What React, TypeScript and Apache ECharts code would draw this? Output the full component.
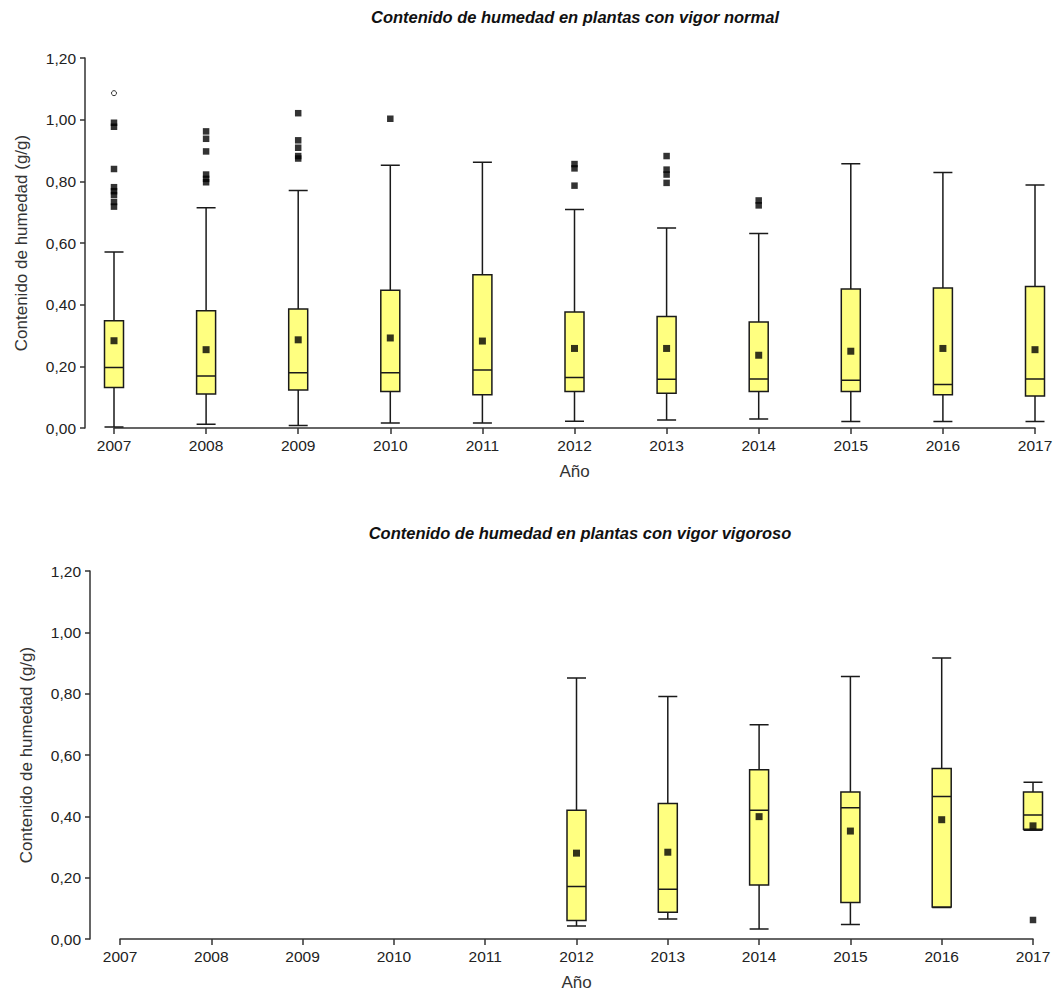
import { useEffect, useRef } from 'react';
import * as echarts from 'echarts';

// ---------- Data ----------
const years = ['2007', '2008', '2009', '2010', '2011', '2012', '2013', '2014', '2015', '2016', '2017'];
const yTicks = [0, 0.2, 0.4, 0.6, 0.8, 1.0, 1.2];

// Vigor normal (all years)
const normalMin = [0.003, 0.012, 0.008, 0.016, 0.016, 0.022, 0.026, 0.029, 0.021, 0.021, 0.021];
const normalQ1 = [0.131, 0.110, 0.123, 0.118, 0.108, 0.118, 0.113, 0.118, 0.118, 0.108, 0.104];
const normalMedian = [0.196, 0.169, 0.179, 0.179, 0.188, 0.164, 0.158, 0.159, 0.155, 0.141, 0.159];
const normalQ3 = [0.348, 0.380, 0.386, 0.447, 0.497, 0.376, 0.362, 0.344, 0.451, 0.454, 0.459];
const normalMax = [0.571, 0.714, 0.770, 0.852, 0.862, 0.709, 0.649, 0.631, 0.857, 0.829, 0.788];
const normalMean = [0.283, 0.254, 0.286, 0.292, 0.282, 0.258, 0.258, 0.236, 0.249, 0.258, 0.254];
const normalOutliers: [string, number][] = [
  ['2007', 0.99], ['2007', 0.977], ['2007', 0.84], ['2007', 0.781], ['2007', 0.768], ['2007', 0.756],
  ['2007', 0.733], ['2007', 0.718],
  ['2008', 0.962], ['2008', 0.938], ['2008', 0.897], ['2008', 0.822], ['2008', 0.808], ['2008', 0.797],
  ['2009', 1.021], ['2009', 0.933], ['2009', 0.909], ['2009', 0.882], ['2009', 0.874],
  ['2010', 1.003],
  ['2012', 0.856], ['2012', 0.842], ['2012', 0.786],
  ['2013', 0.882], ['2013', 0.838], ['2013', 0.822], ['2013', 0.795],
  ['2014', 0.738], ['2014', 0.722],
];
const normalExtremes: [string, number][] = [['2007', 1.086]];

// Vigor vigoroso (2012-2017 only)
const vigorYears = ['2012', '2013', '2014', '2015', '2016', '2017'];
const vigorMin = [0.042, 0.065, 0.033, 0.047, 0.103, 0.355];
const vigorQ1 = [0.060, 0.087, 0.176, 0.119, 0.104, 0.358];
const vigorMedian = [0.171, 0.162, 0.420, 0.428, 0.465, 0.404];
const vigorQ3 = [0.420, 0.442, 0.552, 0.479, 0.556, 0.479];
const vigorMax = [0.851, 0.791, 0.699, 0.856, 0.916, 0.511];
const vigorMean = [0.280, 0.283, 0.399, 0.352, 0.389, 0.369];
const vigorOutliers: [string, number][] = [['2017', 0.062]];

// ---------- Styles ----------
const FONT = '"Liberation Sans", Arial, sans-serif';
const AXIS_COLOR = '#333333';
const BOX_FILL = '#FFFF80';

function fmt(v: number) {
  return v.toFixed(2).replace('.', ',');
}

function makeXAxis(gridIndex: number) {
  return {
    type: 'category',
    gridIndex,
    data: years,
    boundaryGap: false,
    name: 'Año',
    nameLocation: 'middle',
    nameGap: 35,
    nameTextStyle: { fontFamily: FONT, fontSize: 17, color: '#333' },
    axisLine: { show: true, lineStyle: { color: AXIS_COLOR, width: 1.5 } },
    axisTick: { show: true, length: 6, lineStyle: { color: AXIS_COLOR, width: 1.5 } },
    axisLabel: { interval: 0, margin: 9, fontFamily: FONT, fontSize: 15.5, color: '#222' },
    splitLine: { show: false },
  };
}

function makeYAxis(gridIndex: number, offset: number) {
  return {
    type: 'value',
    gridIndex,
    min: 0,
    max: 1.2,
    interval: 0.2,
    offset,
    name: 'Contenido de humedad (g/g)',
    nameLocation: 'middle',
    nameGap: 55,
    nameTextStyle: { fontFamily: FONT, fontSize: 17, color: '#333' },
    axisLine: { show: true, lineStyle: { color: AXIS_COLOR, width: 1.5 } },
    axisTick: { show: true, length: 5, lineStyle: { color: AXIS_COLOR, width: 1.5 } },
    axisLabel: {
      margin: 9,
      fontFamily: FONT,
      fontSize: 15.5,
      color: '#222',
      formatter: (v: number) => (yTicks.some((t) => Math.abs(t - v) < 1e-6) ? fmt(v) : ''),
    },
    splitLine: { show: false },
  };
}

const boxStyle = { color: BOX_FILL, borderColor: '#1a1a1a', borderWidth: 1.5 };

function buildOption() {
  const normalBoxData = years.map((y, i) => [i, normalMin[i], normalQ1[i], normalMedian[i], normalQ3[i], normalMax[i]]);
  const vigorBoxData = vigorYears.map((y, i) => [
    years.indexOf(y), vigorMin[i], vigorQ1[i], vigorMedian[i], vigorQ3[i], vigorMax[i],
  ]);

  return {
    animation: false,
    backgroundColor: '#ffffff',
    title: [
      {
        text: 'Contenido de humedad en plantas con vigor normal',
        left: 575,
        top: 7,
        textAlign: 'center',
        padding: 0,
        textStyle: { fontFamily: FONT, fontSize: 16.5, fontWeight: 'bold', fontStyle: 'italic', color: '#111', lineHeight: 20 },
      },
      {
        text: 'Contenido de humedad en plantas con vigor vigoroso',
        left: 580,
        top: 523,
        textAlign: 'center',
        padding: 0,
        textStyle: { fontFamily: FONT, fontSize: 16.5, fontWeight: 'bold', fontStyle: 'italic', color: '#111', lineHeight: 20 },
      },
    ],
    grid: [
      { left: 114, right: 24, top: 58, height: 370 },
      { left: 120, right: 26, top: 571, height: 369 },
    ],
    xAxis: [makeXAxis(0), makeXAxis(1)],
    yAxis: [makeYAxis(0, 29), makeYAxis(1, 30)],
    series: [
      {
        type: 'boxplot',
        xAxisIndex: 0,
        yAxisIndex: 0,
        boxWidth: [19, 19],
        encode: { x: 0, y: [1, 2, 3, 4, 5] },
        data: normalBoxData,
        itemStyle: boxStyle,
      },
      {
        type: 'scatter',
        xAxisIndex: 0,
        yAxisIndex: 0,
        symbol: 'rect',
        symbolSize: 7,
        itemStyle: { color: '#000' },
        data: years.map((y, i) => [y, normalMean[i]]),
      },
      {
        type: 'scatter',
        xAxisIndex: 0,
        yAxisIndex: 0,
        symbol: 'rect',
        symbolSize: 6.5,
        itemStyle: { color: '#000' },
        data: normalOutliers,
      },
      {
        type: 'scatter',
        xAxisIndex: 0,
        yAxisIndex: 0,
        symbol: 'circle',
        symbolSize: 5,
        itemStyle: { color: '#fff', borderColor: '#000', borderWidth: 1 },
        data: normalExtremes,
      },
      {
        type: 'boxplot',
        xAxisIndex: 1,
        yAxisIndex: 1,
        boxWidth: [19, 19],
        encode: { x: 0, y: [1, 2, 3, 4, 5] },
        data: vigorBoxData,
        itemStyle: boxStyle,
      },
      {
        type: 'scatter',
        xAxisIndex: 1,
        yAxisIndex: 1,
        symbol: 'rect',
        symbolSize: 7,
        itemStyle: { color: '#000' },
        data: vigorYears.map((y, i) => [y, vigorMean[i]]),
      },
      {
        type: 'scatter',
        xAxisIndex: 1,
        yAxisIndex: 1,
        symbol: 'rect',
        symbolSize: 6.5,
        itemStyle: { color: '#000' },
        data: vigorOutliers,
      },
    ],
  };
}

export default function App() {
  const ref = useRef<HTMLDivElement>(null);
  useEffect(() => {
    if (!ref.current) return;
    const chart = echarts.init(ref.current, null, { renderer: 'svg' });
    chart.setOption(buildOption() as any);
    return () => chart.dispose();
  }, []);
  return (
    <div
      ref={ref}
      style={{ position: 'absolute', left: 0, top: 0, width: 1059, height: 992, background: '#fff' }}
    />
  );
}
